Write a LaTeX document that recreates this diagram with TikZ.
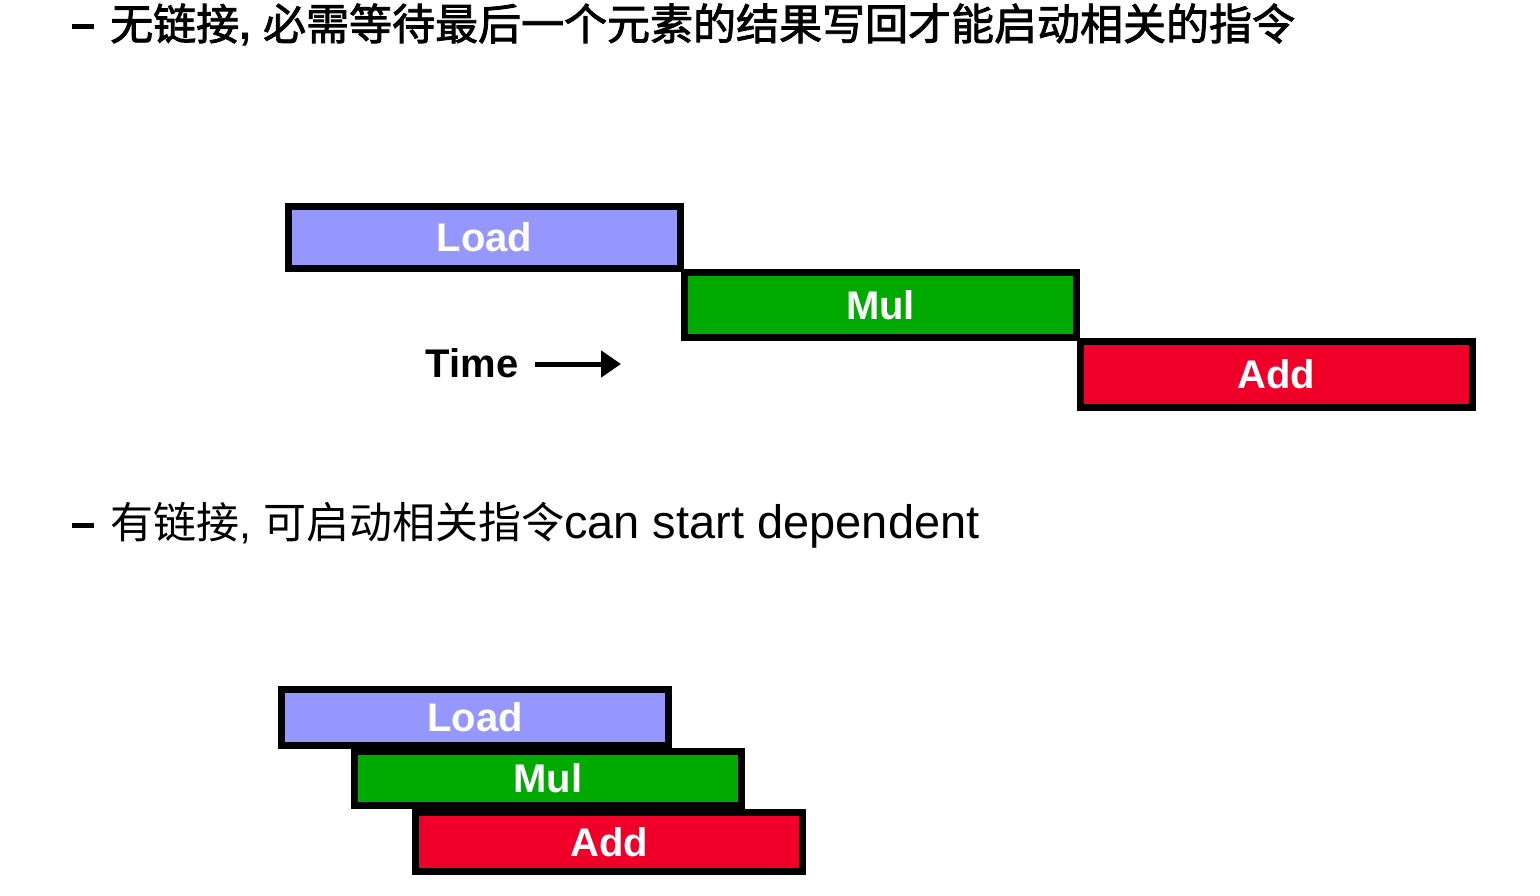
\documentclass[tikz,border=0pt]{standalone}
\usepackage{fontspec}
\usetikzlibrary{arrows.meta}
\setmainfont{Liberation Sans}
\newfontfamily\cjk{Noto Sans CJK SC}[AutoFakeBold=2]
\definecolor{cload}{RGB}{150,150,255}
\definecolor{cmul}{RGB}{0,170,0}
\definecolor{cadd}{RGB}{240,0,40}
\begin{document}
\begin{tikzpicture}[x=1pt,y=-1pt,
  box/.style={draw=black,line width=7pt,minimum width=392pt,inner sep=0pt,
    text=white,font=\fontsize{40}{40}\selectfont\bfseries},
  title/.style={anchor=west,inner sep=0pt,font=\fontsize{43}{43}\selectfont}]
\useasboundingbox (0,0) rectangle (1540,896);
\node[title,font=\fontsize{43}{43}\selectfont\bfseries] (t1) at (72,25) {\rule[0.25em]{22pt}{5pt}\hspace{16pt}{\cjk 无链接}, {\cjk 必需等待最后一个元素的结果写回才能启动相关的指令}};
\node[title] (t2) at (72,525) {\rule[0.25em]{22pt}{5pt}\hspace{16pt}{\cjk 有链接}, {\cjk 可启动相关指令}{\fontsize{47}{47}\selectfont can start dependent}};
\node[box,fill=cload,minimum height=62pt] (l1) at (484.5,237.5) {Load};
\node[box,fill=cmul,minimum height=64pt] (m1) at (880.5,305) {Mul};
\node[box,fill=cadd,minimum height=66pt] (a1) at (1276.5,374.5) {Add};
\node[inner sep=0pt,font=\fontsize{40}{40}\selectfont\bfseries] (time) at (472,363) {Time};
\coordinate (ae) at (621,364);
\draw[line width=5pt,-{Triangle[length=20pt,width=26pt]}] (535,364) -- (ae);
\node[box,fill=cload,minimum width=387pt,minimum height=56pt] (l2) at (475,717.5) {Load};
\node[box,fill=cmul,minimum width=387pt,minimum height=54pt] (m2) at (548,778.5) {Mul};
\node[box,fill=cadd,minimum width=387pt,minimum height=59pt] (a2) at (609,842) {Add};
\end{tikzpicture}
\end{document}
